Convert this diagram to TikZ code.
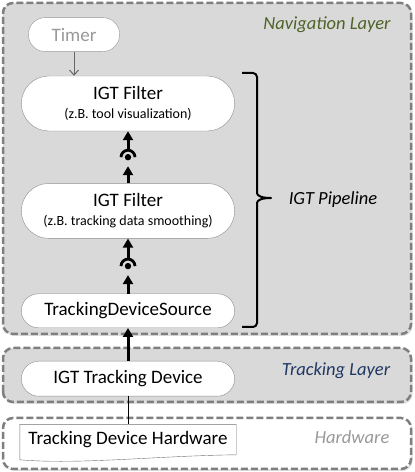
\documentclass[tikz,border=0pt]{standalone}
\usepackage{fontspec}
\setmainfont{Carlito}
\usetikzlibrary{arrows.meta,positioning,shapes.misc,shadows,calc}
\definecolor{layerfill}{HTML}{D9D9D9}
\definecolor{layerdash}{HTML}{7F7F7F}
\definecolor{navgreen}{HTML}{4F6228}
\definecolor{trackblue}{HTML}{1F3864}
\definecolor{hwgray}{HTML}{999999}
\tikzset{
    %Define standard arrow tip
    >={Triangle[length=9pt,width=10pt]},
    %Define style for layers
    layer/.style={
           rounded corners=10pt,
           draw=layerdash, line width=2.5pt,
           dash pattern=on 7pt off 3pt,
           fill=layerfill,
           drop shadow={shadow xshift=1.5pt,shadow yshift=-2pt,opacity=0.25}},
    layertext/.style={
           font=\fontsize{18.5}{20}\selectfont\itshape},
    %Define style for boxes
    punkt/.style={
           rounded rectangle,
           draw=black!45, thin,
           fill=white,
           minimum width=220pt,
           minimum height=34pt,
           align=center,
           font=\fontsize{19}{20}\selectfont},
    hwbox/.style={
           rectangle,
           minimum width=216pt,
           minimum height=30pt,
           font=\fontsize{19}{20}\selectfont},
    % Define arrow style
    pil/.style={
           ->,
           line width=3pt}
}
\begin{document}
\begin{tikzpicture}[x=1pt,y=1pt,node distance=30pt]
\useasboundingbox (0,0) rectangle (415,472);
 %layers
\path[layer] (3,138) rectangle (411,469);
\path[layer] (3,70) rectangle (411,124);
\path[layer,fill=white] (3,3) rectangle (411,54);
\node[layertext,text=navgreen] (navlbl) at (327,447) {Navigation Layer};
\node[layertext,text=trackblue] (tracklbl) at (336,101) {Tracking Layer};
\node[layertext,text=hwgray] (hwlbl) at (352,35) {Hardware};
 %nodes
\node[punkt, minimum height=55pt] (f1) at (128,368.5) {IGT Filter\\[-1pt]{\fontsize{14}{16}\selectfont (z.B. tool visualization)}};
\node[punkt, minimum height=55pt, below=52pt of f1] (f2) {IGT Filter\\[-1pt]{\fontsize{14}{16}\selectfont (z.B. tracking data smoothing)}};
\node[punkt, below=55pt of f2] (tds) {TrackingDeviceSource};
\node[punkt, minimum height=35pt, below=33pt of tds] (itd) {IGT Tracking Device};
\node[hwbox, below=28pt of itd] (hw) {Tracking Device Hardware};
\node[punkt, draw=hwgray, text=hwgray, minimum width=98pt, above=24pt of f1.north, xshift=-54pt] (timer) {Timer};
 %hardware sheet
\draw[black!55, thin] ($(hw.south west)+(0,-5)$) -- (hw.north west) -- (hw.north east) -- (hw.south east)
    .. controls ($(hw.south east)+(-80,-1)$) and ($(hw.south west)+(60,-10)$) .. ($(hw.south west)+(0,-5)$);
 %connections
\draw[black!60, line width=1pt, -{Straight Barb[length=5pt,width=9pt]}] (timer.south) -- (timer.south |- f1.north);
\draw[black, thin] (itd.south) -- (hw.north);
\draw[pil] (itd.north) -- (tds.south);
\foreach \lo/\hi in {f2/f1,tds/f2}{
  \coordinate (m) at ($(\lo.north)!0.5!(\hi.south)$);
  \draw[pil] ($(m)+(0,6.5)$) -- (\hi.south);
  \draw[line width=2.8pt] ($(m)+(-7,0)$) arc[start angle=180,end angle=0,radius=7];
  \fill (m) circle (3.2);
  \draw[pil] (\lo.north) -- ($(m)+(0,-9)$);
}
 %pipeline brace
\draw[line width=2pt, line join=round] (242,399) -- (253,399) to[out=0,in=90] (257,395) -- (257,279)
    .. controls (257,276) and (262,274) .. (271,274)
    .. controls (262,274) and (257,272) .. (257,269) -- (257,149) to[out=-90,in=0] (253,145) -- (242,145);
\node[layertext] (pipe) at (333,272) {IGT Pipeline};
\end{tikzpicture}
\end{document}
